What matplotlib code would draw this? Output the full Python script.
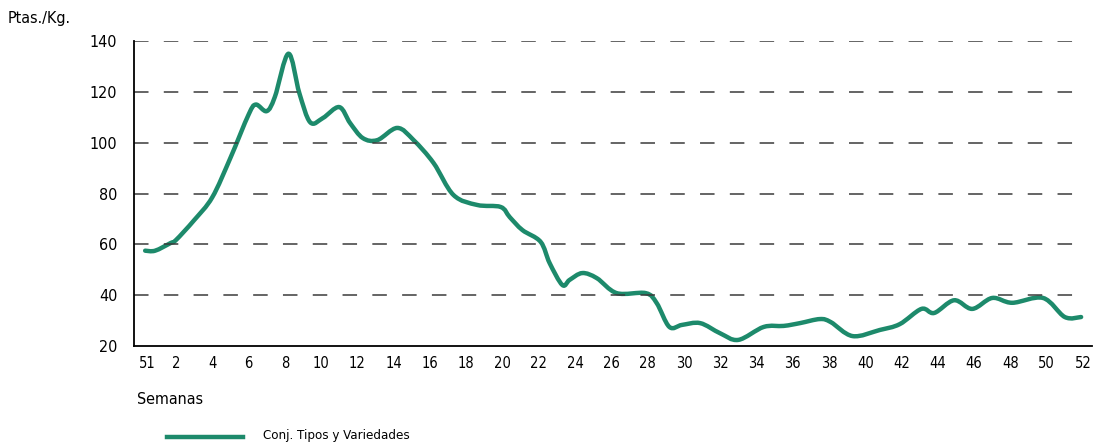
import matplotlib.pyplot as plt
from matplotlib.lines import Line2D
from matplotlib.path import Path
from matplotlib.patches import PathPatch

# precio semanal (Ptas./Kg)
semana = [0.3, 0.85, 1.7, 2.0, 3.0, 4.0, 5.0, 6.0, 6.4, 7.0, 7.45, 8.2, 8.8, 9.4,
          10.1, 11.0, 11.6, 12.3, 13.1, 14.2, 15.1, 16.2, 17.3, 18.6, 19.9, 20.4,
          21.1, 22.1, 22.6, 23.3, 23.7, 24.4, 25.2, 26.3, 27.9, 28.5, 29.2, 29.9,
          30.9, 32.0, 33.0, 34.4, 35.5, 36.4, 37.5, 38.1, 39.3, 40.8, 41.9, 43.1,
          43.8, 44.9, 45.9, 47.0, 48.1, 49.8, 51.0, 51.9]
precio = [57.5, 57.5, 60.5, 61.7, 69.5, 78.5, 94, 111, 115, 112.4, 118, 135, 119.5, 108,
          109.7, 114, 107.7, 101.8, 101, 105.8, 101, 92, 79.4, 75.5, 74.7, 70.7,
          65.6, 61, 52.6, 44, 46, 48.7, 46.7, 40.8, 40.8, 36.9, 27.5, 28.3,
          29, 25, 22.4, 27.5, 27.9, 29, 30.6, 29.4, 23.9, 26.3, 28.6, 34.6,
          33, 38, 34.6, 38.9, 37, 38.9, 31.4, 31.4]

ticks_pos = [0.4] + list(range(2, 53, 2))
ticks_lab = ["51"] + [str(w) for w in range(2, 53, 2)]
y_ticks = [20, 40, 60, 80, 100, 120, 140]

verde = "#1d8a6b"
fuente = "DejaVu Sans"


# curva suave (catmull-rom como bezier) a traves de los puntos
def curva(xs, ys):
    pts = list(zip(xs, ys))
    verts = [pts[0]]
    codes = [Path.MOVETO]
    for i in range(len(pts) - 1):
        p0 = pts[i - 1] if i > 0 else pts[i]
        p1 = pts[i]
        p2 = pts[i + 1]
        p3 = pts[i + 2] if i + 2 < len(pts) else pts[i + 1]
        c1 = (p1[0] + (p2[0] - p0[0]) / 6, p1[1] + (p2[1] - p0[1]) / 6)
        c2 = (p2[0] - (p3[0] - p1[0]) / 6, p2[1] - (p3[1] - p1[1]) / 6)
        verts += [c1, c2, p2]
        codes += [Path.CURVE4] * 3
    return Path(verts, codes)


fig = plt.figure(figsize=(10.94, 4.43), dpi=100)
ax = fig.add_axes([134 / 1094, 97 / 443, 958 / 1094, 305 / 443])

ax.hlines(y_ticks[1:], -0.315, 52.1, colors="#3a3a3a", linestyles=(0, (9.5, 10)), linewidth=1.1)
ax.add_patch(PathPatch(curva(semana, precio), facecolor="none", edgecolor=verde,
                       linewidth=3.2, joinstyle="round", capstyle="round"))

ax.set_xlim(-0.315, 52.5)
ax.set_ylim(20, 140)
ax.set_xticks(ticks_pos)
ax.set_xticklabels(ticks_lab, family=fuente, fontstretch="condensed", fontsize=10.5)
ax.set_yticks(y_ticks)
ax.set_yticklabels([str(v) for v in y_ticks], family=fuente, fontstretch="condensed", fontsize=11.5)
ax.tick_params(axis="x", length=0, pad=7)
ax.tick_params(axis="y", length=0, pad=12)

for s in ["top", "right"]:
    ax.spines[s].set_visible(False)
ax.spines["left"].set_linewidth(1.3)
ax.spines["bottom"].set_linewidth(1.3)

fig.text(8 / 1094, 1 - 18 / 443, "Ptas./Kg.", family=fuente, fontstretch="condensed",
         fontsize=11.5, va="center")
fig.text(137 / 1094, 1 - 400 / 443, "Semanas", family=fuente, fontstretch="condensed",
         fontsize=11.5, va="center")

fig.add_artist(Line2D([167 / 1094, 243 / 1094], [1 - 437 / 443, 1 - 437 / 443],
                      color=verde, linewidth=3.2))
fig.text(263 / 1094, 1 - 435 / 443, "Conj. Tipos y Variedades", family=fuente,
         fontstretch="condensed", fontsize=9.5, va="center")

fig.savefig("out.png", dpi=100)
